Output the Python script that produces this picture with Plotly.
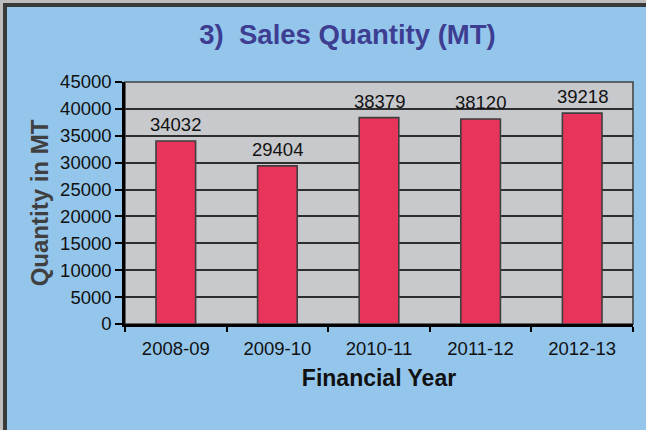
import plotly.graph_objects as go

years = ["2008-09", "2009-10", "2010-11", "2011-12", "2012-13"]
quantity = [34032, 29404, 38379, 38120, 39218]
y_ticks = [0, 5000, 10000, 15000, 20000, 25000, 30000, 35000, 40000, 45000]

W, H = 646, 430
L, R, T, B = 125, 13, 82, 106
pw, ph = W - L - R, H - T - B

FONT = "Liberation Sans, Arial, sans-serif"

fig = go.Figure()
fig.add_trace(go.Bar(
    x=years, y=quantity,
    width=0.39,
    marker=dict(color="#E8335A", line=dict(color="#3F3F3F", width=1.6)),
    hoverinfo="x+y",
))

for yr, q in zip(years, quantity):
    fig.add_annotation(x=yr, y=q, text=str(q), showarrow=False,
                       yanchor="bottom", yshift=4,
                       font=dict(family=FONT, size=18.5, color="#111111"))

def px_x(p):
    return (p - L) / pw

def px_y(p):
    return 1 - (p - T) / ph

shapes = [
    dict(type="rect", xref="paper", yref="paper", x0=0, x1=1, y0=0, y1=1,
         line=dict(color="#3F3F3F", width=1.5), layer="below"),
    dict(type="rect", xref="paper", yref="paper", x0=px_x(0), x1=px_x(3),
         y0=px_y(H), y1=px_y(0), fillcolor="#BDBDBD", line=dict(width=0)),
    dict(type="rect", xref="paper", yref="paper", x0=px_x(3), x1=px_x(7),
         y0=px_y(H), y1=px_y(3), fillcolor="#3A3A3A", line=dict(width=0)),
    dict(type="rect", xref="paper", yref="paper", x0=px_x(3), x1=px_x(W),
         y0=px_y(3), y1=px_y(0), fillcolor="#BDBDBD", line=dict(width=0)),
    dict(type="rect", xref="paper", yref="paper", x0=px_x(3), x1=px_x(W),
         y0=px_y(7), y1=px_y(3), fillcolor="#3A3A3A", line=dict(width=0)),
]

fig.update_layout(
    width=W, height=H,
    margin=dict(l=L, r=R, t=T, b=B, autoexpand=False),
    paper_bgcolor="#94C6EC",
    plot_bgcolor="#C8C9CD",
    showlegend=False,
    shapes=shapes,
    font=dict(family=FONT, color="#111111"),
    title=dict(text="<b>3)  Sales Quantity (MT)</b>", x=347.5 / W, xref="container",
               xanchor="center", y=1 - 34 / H, yref="container", yanchor="middle",
               font=dict(family=FONT, size=27.5, color="#3D3D91")),
    xaxis=dict(
        type="category",
        showgrid=False, showline=True, linecolor="#000000", linewidth=2.5,
        ticks="outside", tickson="boundaries", ticklen=5, tickcolor="#000000", tickwidth=1.5,
        tickfont=dict(family=FONT, size=18.5, color="#111111"),
        ticklabelstandoff=6,
        title=dict(text="<b>Financial Year</b>", standoff=12,
                   font=dict(family=FONT, size=23, color="#111111")),
        fixedrange=True,
    ),
    yaxis=dict(
        range=[0, 45000], tickvals=y_ticks, ticktext=[str(v) for v in y_ticks],
        showgrid=True, gridcolor="#2E2E2E", gridwidth=1.5,
        zeroline=False,
        showline=True, linecolor="#000000", linewidth=2.5,
        ticks="outside", ticklen=7, tickcolor="#000000", tickwidth=1.5,
        tickfont=dict(family=FONT, size=18.5, color="#111111"),
        title=dict(text="<b>Quantity in MT</b>", standoff=5,
                   font=dict(family=FONT, size=24, color="#404040")),
        fixedrange=True,
    ),
)

fig.write_html("out.html", config={"displayModeBar": False},
               post_script="document.body.style.margin='0';")
